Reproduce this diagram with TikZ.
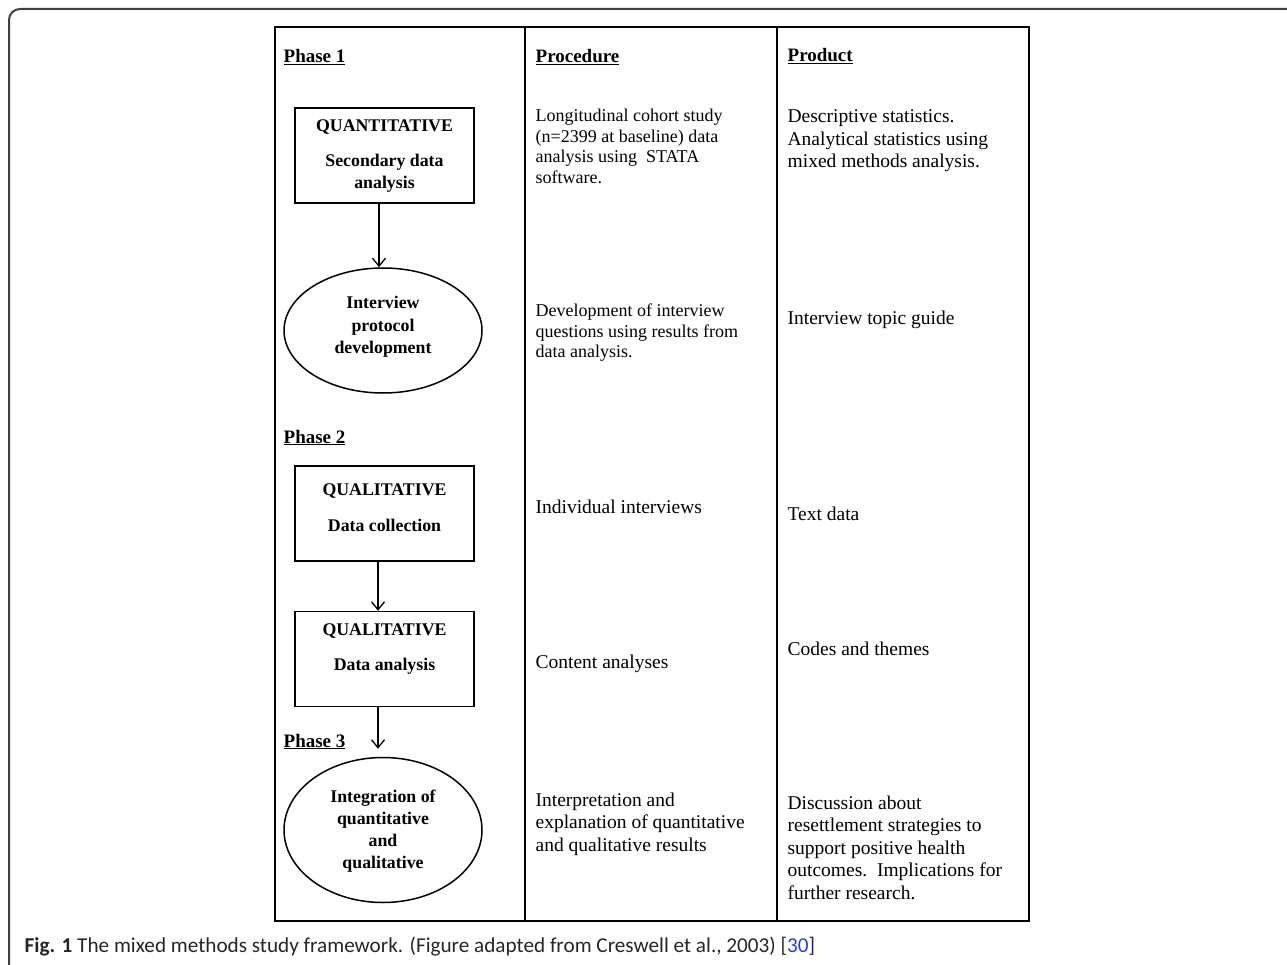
\documentclass[tikz,border=0pt]{standalone}
\usepackage{fontspec}
\setmainfont{Liberation Serif}
\newfontfamily\capfont{Carlito}
\usepackage{tikz}
\usetikzlibrary{arrows.meta,shapes.geometric}
\definecolor{linkblue}{RGB}{35,65,225}

\begin{document}
\begin{tikzpicture}[x=1pt,y=-1pt,>={Straight Barb[length=8pt,width=13pt]},
                    line width=1.3pt]
  \tikzstyle{place}=[rectangle,draw=black,fill=white,line width=1.5pt,
                     minimum width=179pt,minimum height=95pt,inner sep=0pt]
  \tikzstyle{oval}=[ellipse,draw=black,fill=white,line width=1.5pt,
                    minimum width=198pt,inner sep=0pt]
  \tikzstyle{inbox}=[anchor=base,align=center,inner sep=0pt,
                     font=\bfseries\fontsize{17.8}{22}\selectfont]
  \tikzstyle{cell}=[anchor=base west,align=left,inner sep=0pt,
                    font=\fontsize{18}{20.5}\selectfont]
  \tikzstyle{wide}=[font=\fontsize{19.5}{22.5}\selectfont]
  \tikzstyle{head}=[anchor=base west,inner sep=0pt,
                    font=\bfseries\fontsize{19}{22}\selectfont]

  \useasboundingbox (0,0) rectangle (1287,965);
  \draw[line width=2pt,black!75,rounded corners=11pt] (9,9) rectangle (1300,975);

  % table
  \draw (275,27) rectangle (1029,921);
  \draw (525,27) -- (525,921) (777,27) -- (777,921);

  \node[head] (ph1)  at (283,63)  {\underline{Phase 1}};
  \node[head] (proc) at (535,63)  {\underline{Procedure}};
  \node[head] (prod) at (787,62)  {\underline{Product}};
  \node[head] (ph2)  at (283,443) {\underline{Phase 2}};
  \node[head] (ph3)  at (283,747) {\underline{Phase 3}};

  % flow (text nodes sit on the baseline of their last line)
  \node[place] (quan)  at (384.5,155.5) {};
  \node[oval,minimum height=125pt] (prot) at (383,330.5) {};
  \node[place] (qcol)  at (384.5,513.5) {};
  \node[place] (qana)  at (384.5,659) {};
  \node[oval,minimum height=145pt] (integ) at (383,830) {};

  \node[inbox] (quantxt) at (384.5,189) {QUANTITATIVE\\[13pt]Secondary data\\analysis};
  \node[inbox] (prottxt) at (383,353) {Interview\\protocol\\development};
  \node[inbox] (qcoltxt) at (384.5,531) {QUALITATIVE\\[14pt]Data collection};
  \node[inbox] (qanatxt) at (384.5,670.7) {QUALITATIVE\\[13.7pt]Data analysis};
  \node[inbox] (integtxt) at (383,868) {Integration of\\quantitative\\and\\qualitative};

  \path[->]
  ([xshift=-5.5pt]quan.south) edge ([xshift=-4pt]prot.north)
  ([xshift=-6.5pt]qcol.south) edge ([xshift=-6.5pt]qana.north)
  ([xshift=-6.5pt]qana.south) edge [shorten >=8pt] ([xshift=-5pt]integ.north);

  % procedure column
  \node[cell] (cohort) at (535,183.5)  {Longitudinal cohort study\\(n=2399 at baseline) data\\analysis using\ \ STATA\\software.};
  \node[cell] (develop) at (535,357.5) {Development of interview\\questions using results from\\data analysis.};
  \node[cell,wide] (indiv) at (535,513)     {Individual interviews};
  \node[cell,wide] (content) at (535,668)   {Content analyses};
  \node[cell,wide] (interp) at (535,851) {Interpretation and\\explanation of quantitative\\and qualitative results};

  % product column
  \node[cell,wide] (descr) at (787,168) {Descriptive statistics.\\Analytical statistics using\\mixed methods analysis.};
  \node[cell,wide] (topic) at (787,325)    {Interview topic guide};
  \node[cell,wide] (textdata) at (787,520) {Text data};
  \node[cell,wide] (codes) at (787,655)    {Codes and themes};
  \node[cell,wide] (discuss) at (787,899) {Discussion about\\resettlement strategies to\\support positive health\\outcomes.\ \ Implications for\\further research.};

  \node[anchor=base west,inner sep=0pt,text=black!85,
        font=\capfont\fontsize{21.2}{25}\selectfont] (caption) at (24,952)
        {\textbf{Fig. 1} The mixed methods study framework. (Figure adapted from Creswell et al., 2003) [\textcolor{linkblue}{30}]};
\end{tikzpicture}
\end{document}
